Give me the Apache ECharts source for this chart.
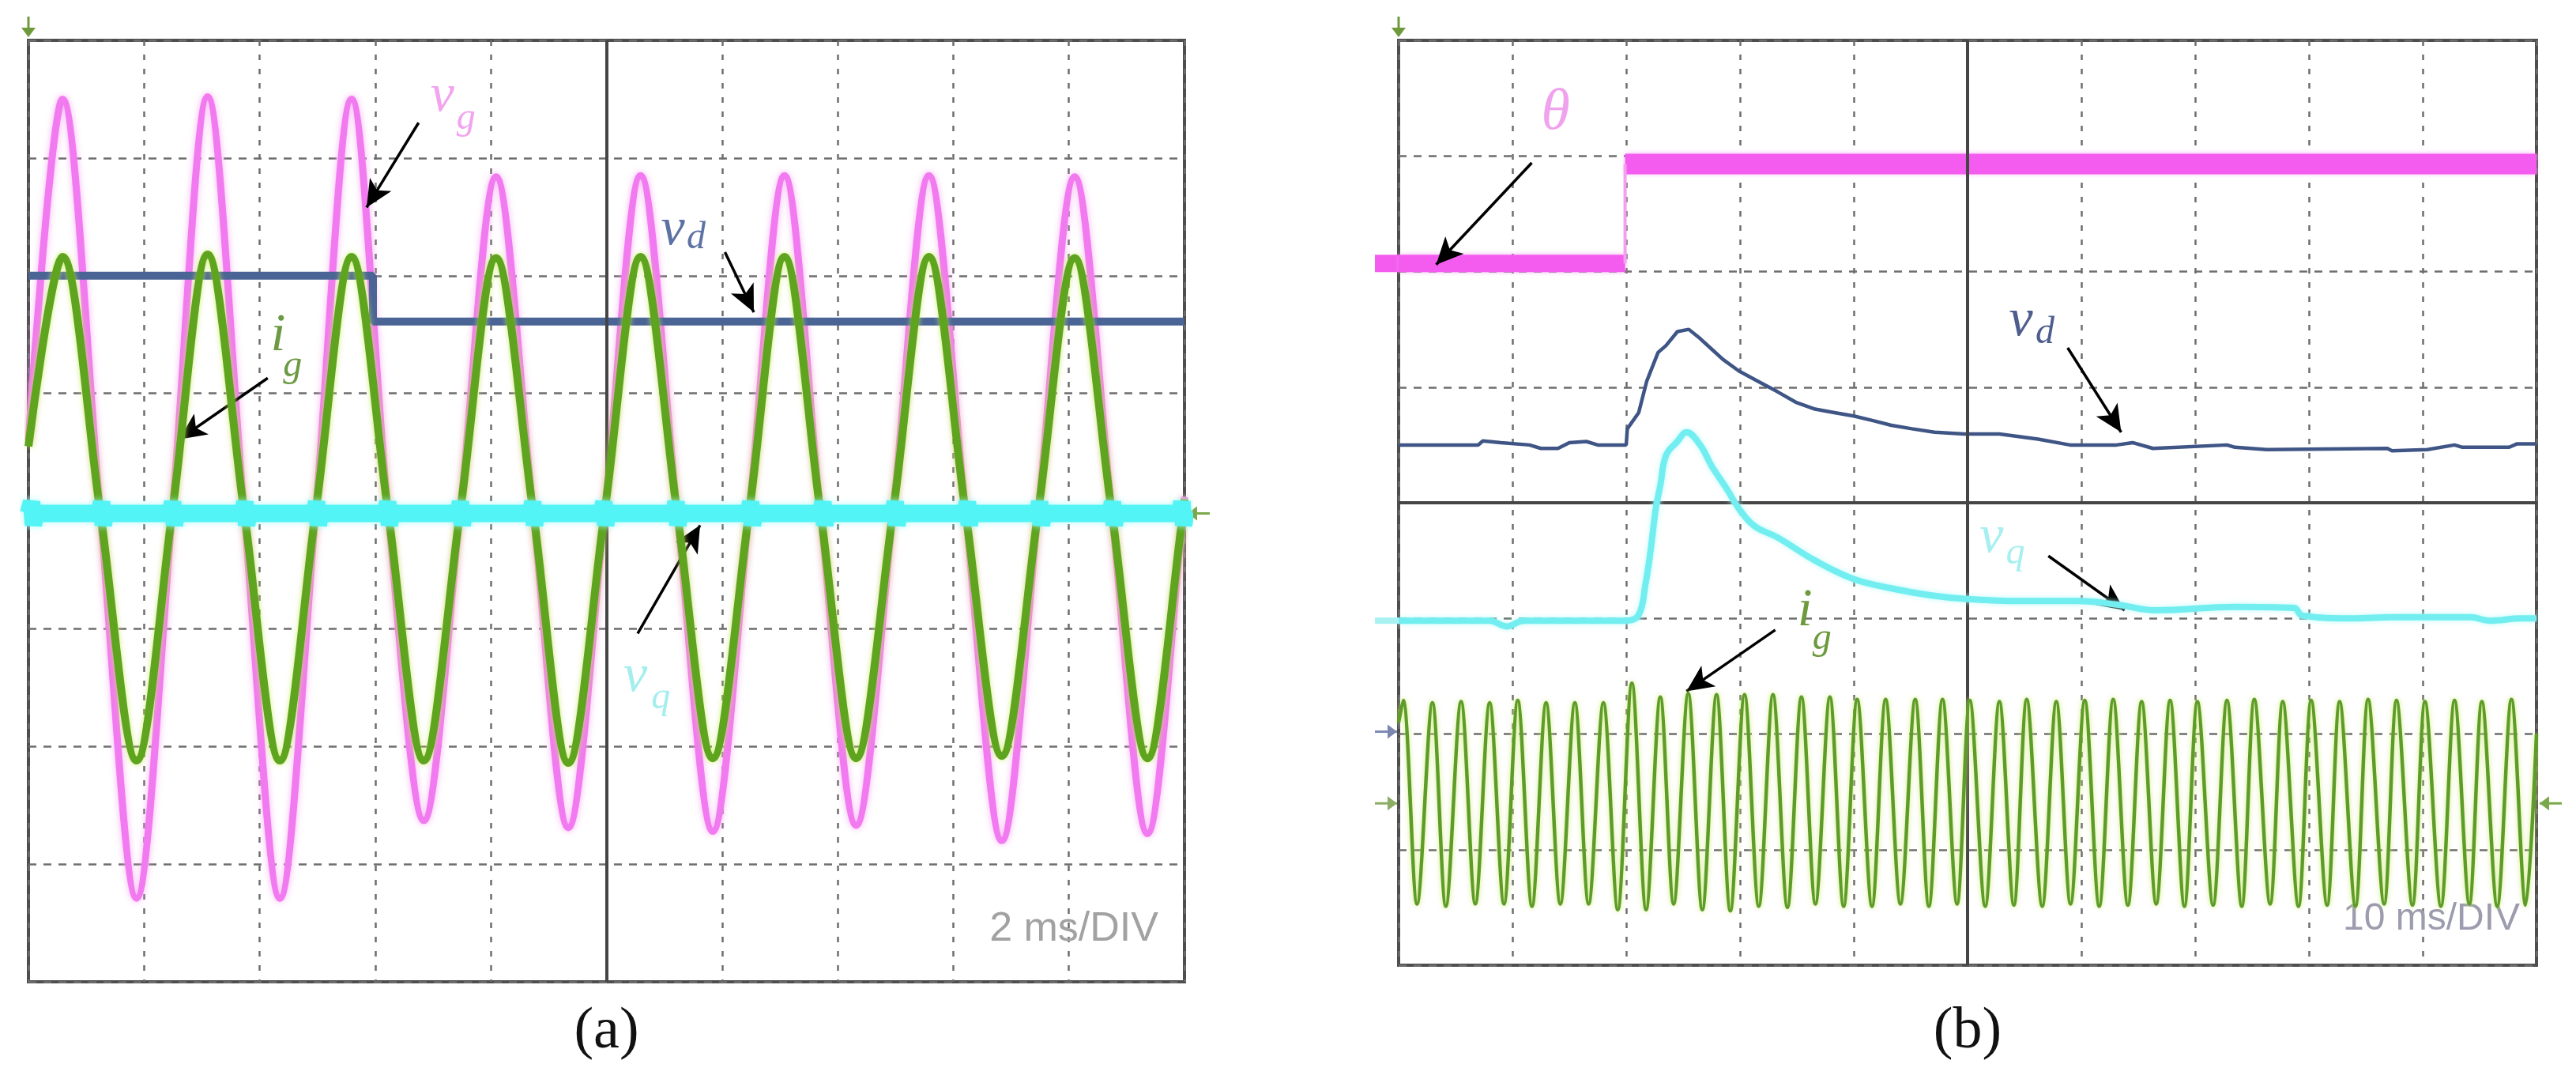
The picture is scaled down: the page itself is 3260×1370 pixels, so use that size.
<!DOCTYPE html>
<html>
<head>
<meta charset="utf-8">
<script src="https://cdn.jsdelivr.net/npm/echarts@6/dist/echarts.min.js"></script>
<style>
html,body{margin:0;padding:0;background:#ffffff;}
#chart{width:3260px;height:1370px;}
</style>
</head>
<body>
<div id="chart"></div>
<script>
// ================= PANEL (a) : 2 ms/DIV, vertical values in divisions =================
const A_T_MIN = 0, A_T_MAX = 20, A_T_STEP = 2;
const A_Y_MIN = -4, A_Y_MAX = 4, A_Y_STEP = 1;
const A_CENTER_T = 10;

// v_g and i_g (in phase) : times of peaks, zero crossings and troughs (ms)
const A_PEAK_T   = [0.59, 3.10, 5.59, 8.09, 10.59, 13.08, 15.58, 18.10];
const A_DOWN_T   = [1.24, 3.73, 6.22, 8.73, 11.22, 13.70, 16.21, 18.74];
const A_TROUGH_T = [1.87, 4.35, 6.84, 9.34, 11.84, 14.32, 16.84, 19.36];
const A_UP_T     = [2.49, 4.97, 7.47, 9.97, 12.47, 14.96, 17.47, 19.98];

const A_VG_START = 0.6, A_VG_END = 0.12;
const A_VG_PEAK   = [3.50, 3.52, 3.50, 2.84, 2.85, 2.85, 2.85, 2.84];
const A_VG_TROUGH = [-3.29, -3.29, -2.63, -2.69, -2.72, -2.67, -2.80, -2.74];

const A_IG_START = 0.55, A_IG_END = 0.1;
const A_IG_PEAK   = [2.16, 2.18, 2.16, 2.15, 2.16, 2.16, 2.16, 2.15];
const A_IG_TROUGH = [-2.12, -2.12, -2.12, -2.14, -2.10, -2.10, -2.08, -2.10];

// v_d : step down at the sag instant
const A_VD_T = [0, 5.96, 5.96, 20];
const A_VD_V = [2.00, 2.00, 1.61, 1.61];

// v_q : flat trace with small blobs at each v_g zero crossing
const A_VQ_BASE = -0.02;
const A_VQ_SPIKE_T = [0.07, 1.28, 2.51, 3.76, 5.00, 6.23, 7.49, 8.74, 9.97, 11.22, 12.51, 13.76, 15.01, 16.26, 17.51, 18.77, 19.97];
const A_VQ_SPIKE_HI = 0.08, A_VQ_SPIKE_LO = -0.12;

// ================= PANEL (b) : 10 ms/DIV =================
const B_T_MIN = 0, B_T_MAX = 100, B_T_STEP = 10;
const B_Y_MIN = -4, B_Y_MAX = 4, B_Y_STEP = 1;
const B_CENTER_T = 50;

// theta : step
const B_THETA_T = [0, 19.9, 100];
const B_THETA_V = [2.07, 2.93];

// v_d
const B_VD_T = [0, 7.0, 7.4, 9.0, 11.5, 12.5, 14.0, 15.0, 16.5, 17.5, 20.0, 20.1, 21.1, 21.8, 22.8, 23.5, 24.5, 25.5, 26.5, 27.5, 28.5, 29.9, 31.6, 33.3, 34.9, 36.6, 38.3, 40.0, 41.7, 43.3, 45.1, 47.1, 49.7, 52.8, 56.2, 59.0, 63.1, 64.5, 66.3, 72.8, 73.5, 76.3, 86.9, 87.3, 90.4, 92.8, 93.5, 97.6, 98.3, 100];
const B_VD_V = [0.50, 0.50, 0.535, 0.52, 0.50, 0.47, 0.47, 0.52, 0.53, 0.50, 0.50, 0.64, 0.78, 1.05, 1.30, 1.36, 1.48, 1.50, 1.42, 1.33, 1.24, 1.14, 1.05, 0.96, 0.87, 0.81, 0.78, 0.75, 0.71, 0.67, 0.64, 0.61, 0.595, 0.595, 0.55, 0.50, 0.50, 0.52, 0.47, 0.50, 0.48, 0.46, 0.47, 0.45, 0.46, 0.50, 0.48, 0.48, 0.51, 0.51];

// v_q
const B_VQ_T = [0, 8.0, 9.5, 11.0, 20.0, 21.1, 21.7, 22.15, 22.6, 23.0, 23.5, 24.5, 25.3, 26.5, 27.5, 28.9, 29.9, 31.25, 33.3, 36.6, 40.0, 43.3, 46.7, 49.7, 54.5, 59.7, 63.1, 66.6, 73.5, 78.7, 79.4, 83.8, 87.3, 94.2, 95.9, 98.7, 100];
const B_VQ_V = [-1.02, -1.02, -1.07, -1.02, -1.02, -0.97, -0.70, -0.41, -0.05, 0.15, 0.41, 0.53, 0.61, 0.50, 0.32, 0.11, -0.05, -0.20, -0.30, -0.50, -0.66, -0.74, -0.80, -0.83, -0.85, -0.85, -0.88, -0.93, -0.90, -0.91, -0.975, -1.00, -0.99, -0.99, -1.02, -1.00, -1.00];

// i_g : 400 Hz current, peaks and troughs
const B_IG_START = -1.9, B_IG_END = -2.0;
const B_IG_PEAK_T = [0.4, 2.97, 5.49, 8.0, 10.47, 12.96, 15.49, 18.0, 20.5, 23.0, 25.45, 27.94, 30.4, 32.9, 35.4, 37.9, 40.3, 42.8, 45.4, 47.8, 50.2, 52.8, 55.2, 57.8, 60.3, 62.8, 65.3, 67.8, 70.2, 72.8, 75.2, 77.7, 80.2, 82.7, 85.2, 87.7, 90.2, 92.8, 95.2, 97.8];
const B_IG_PEAK_V = [-1.71, -1.73, -1.72, -1.73, -1.71, -1.73, -1.73, -1.73, -1.56, -1.68, -1.65, -1.66, -1.66, -1.66, -1.68, -1.68, -1.70, -1.70, -1.70, -1.70, -1.71, -1.72, -1.70, -1.72, -1.71, -1.70, -1.72, -1.71, -1.72, -1.71, -1.70, -1.72, -1.71, -1.72, -1.70, -1.71, -1.72, -1.71, -1.72, -1.70];
const B_IG_TROUGH_T = [1.62, 4.15, 6.74, 9.26, 11.72, 14.21, 16.70, 19.26, 21.75, 24.17, 26.69, 29.15, 31.65, 34.17, 36.63, 39.11, 41.6, 44.1, 46.6, 49.08, 51.55, 54.07, 56.56, 59.05, 61.57, 64.09, 66.58, 69.06, 71.58, 74.1, 76.59, 79.08, 81.6, 84.09, 86.61, 89.1, 91.6, 94.1, 96.55, 99.05];
const B_IG_TROUGH_V = [-3.47, -3.49, -3.47, -3.47, -3.49, -3.47, -3.47, -3.52, -3.52, -3.47, -3.52, -3.53, -3.49, -3.50, -3.47, -3.49, -3.49, -3.47, -3.49, -3.47, -3.49, -3.48, -3.49, -3.47, -3.49, -3.48, -3.47, -3.49, -3.48, -3.49, -3.47, -3.49, -3.48, -3.49, -3.47, -3.48, -3.49, -3.47, -3.49, -3.48];

// ================= annotations (data coordinates) =================
const A_LABELS = [
  {main: 'v', sub: 'g', at: [7.16, 3.52], subAt: [7.57, 3.33], color: '#f2a4ee'},
  {main: 'i', sub: 'g', at: [4.32, 1.49], subAt: [4.57, 1.23], color: '#6c9a44'},
  {main: 'v', sub: 'd', at: [11.15, 2.39], subAt: [11.55, 2.32], color: '#5d71a4'},
  {main: 'v', sub: 'q', at: [10.50, -1.41], subAt: [10.94, -1.59], color: '#a4eeee'}
];
const A_ARROWS = [
  [[6.75, 3.30], [5.85, 2.58]],
  [[4.14, 1.13], [2.61, 0.61]],
  [[12.05, 2.20], [12.55, 1.69]],
  [[10.54, -1.04], [11.62, -0.12]]
];
const B_LABELS = [
  {main: 'θ', sub: '', at: [13.8, 3.37], subAt: null, color: '#f0a2ee'},
  {main: 'v', sub: 'd', at: [54.7, 1.57], subAt: [56.8, 1.47], color: '#4d5e8e'},
  {main: 'v', sub: 'q', at: [52.1, -0.30], subAt: [54.2, -0.44], color: '#a6f0f0'},
  {main: 'i', sub: 'g', at: [35.7, -0.94], subAt: [37.2, -1.18], color: '#6c9a3c'}
];
const B_ARROWS = [
  [[11.7, 2.94], [3.3, 2.06]],
  [[58.8, 1.34], [63.5, 0.61]],
  [[57.1, -0.46], [63.8, -0.93]],
  [[33.1, -1.10], [25.3, -1.63]]
];
const TIME_BASE = ['2 ms/DIV', '10 ms/DIV'];
const PANEL_TITLES = ['(a)', '(b)'];

// ================= build =================
function wave(startV, endT, endV, peakT, peakV, downT, troughT, troughV, upT) {
  const pts = [[0, startV]];
  for (let i = 0; i < peakT.length; i++) {
    pts.push([peakT[i], peakV[i]]);
    pts.push([downT[i], 0]);
    pts.push([troughT[i], troughV[i]]);
    pts.push([upT[i], 0]);
  }
  pts.push([endT, endV]);
  return pts;
}
function zip(t, v) { return t.map((x, i) => [x, v[i]]); }
function altWave(startV, endT, endV, pT, pV, tT, tV) {
  const pts = [[0, startV]];
  for (let i = 0; i < pT.length; i++) {
    pts.push([pT[i], pV[i]]);
    pts.push([tT[i], tV[i]]);
  }
  pts.push([endT, endV]);
  return pts;
}

const aVg = wave(A_VG_START, A_T_MAX, A_VG_END, A_PEAK_T, A_VG_PEAK, A_DOWN_T, A_TROUGH_T, A_VG_TROUGH, A_UP_T);
const aIg = wave(A_IG_START, A_T_MAX, A_IG_END, A_PEAK_T, A_IG_PEAK, A_DOWN_T, A_TROUGH_T, A_IG_TROUGH, A_UP_T);
const aVd = zip(A_VD_T, A_VD_V);
const aVq = [[0, A_VQ_BASE]];
A_VQ_SPIKE_T.forEach(t => {
  aVq.push([t - 0.05, A_VQ_BASE], [t - 0.015, A_VQ_SPIKE_HI], [t + 0.015, A_VQ_SPIKE_LO], [t + 0.05, A_VQ_BASE]);
});
aVq.push([A_T_MAX, A_VQ_BASE]);

const bThetaLo = [[B_THETA_T[0], B_THETA_V[0]], [B_THETA_T[1], B_THETA_V[0]]];
const bThetaHi = [[B_THETA_T[1], B_THETA_V[1]], [B_THETA_T[2], B_THETA_V[1]]];
const bThetaStep = [[B_THETA_T[1], B_THETA_V[0]], [B_THETA_T[1], B_THETA_V[1]]];
const bVd = zip(B_VD_T, B_VD_V);
const bVq = zip(B_VQ_T, B_VQ_V);
const bIg = altWave(B_IG_START, B_T_MAX, B_IG_END, B_IG_PEAK_T, B_IG_PEAK_V, B_IG_TROUGH_T, B_IG_TROUGH_V);

function axisX(gi, min, max, interval) {
  return {type: 'value', gridIndex: gi, min, max, interval,
    axisLine: {show: false}, axisTick: {show: false}, axisLabel: {show: false},
    splitLine: {show: true, lineStyle: {color: '#6e6e6e', width: 2.5, type: [7, 11]}}};
}
function axisY(gi, min, max, interval) {
  return {type: 'value', gridIndex: gi, min, max, interval,
    axisLine: {show: false}, axisTick: {show: false}, axisLabel: {show: false},
    splitLine: {show: true, lineStyle: {color: '#6e6e6e', width: 2.5, type: [10, 9]}}};
}
function trace(gi, data, color, width, z, extra) {
  return Object.assign({
    type: 'line', xAxisIndex: gi, yAxisIndex: gi, data, showSymbol: false, symbol: 'none',
    lineStyle: {color, width}, z, silent: true, animation: false
  }, extra || {});
}
function arrows(gi, list) {
  return {
    type: 'line', xAxisIndex: gi, yAxisIndex: gi, data: [], z: 20, silent: true,
    markLine: {
      silent: true, animation: false, symbol: ['none', 'arrow'], symbolSize: [24, 34],
      label: {show: false}, emphasis: {disabled: true},
      lineStyle: {color: '#000000', width: 3.5, type: 'solid'},
      data: list.map(a => [{coord: a[0]}, {coord: a[1]}])
    }
  };
}
function centerLines(gi, tc) {
  return {
    type: 'line', xAxisIndex: gi, yAxisIndex: gi, data: [], z: 1, silent: true,
    markLine: {
      silent: true, animation: false, symbol: 'none', label: {show: false}, emphasis: {disabled: true},
      lineStyle: {color: '#454545', width: 4, type: 'solid'},
      data: [{xAxis: tc}, {yAxis: 0}]
    }
  };
}

const chart = echarts.init(document.getElementById('chart'), null, {renderer: 'canvas'});
const option = {
  animation: false,
  backgroundColor: '#ffffff',
  grid: [
    {left: 36, top: 51, width: 1463, height: 1191, show: true, borderColor: '#4e4e4e', borderWidth: 4, backgroundColor: 'rgba(0,0,0,0)'},
    {left: 1770, top: 51, width: 1440, height: 1170, show: true, borderColor: '#4e4e4e', borderWidth: 4, backgroundColor: 'rgba(0,0,0,0)'}
  ],
  xAxis: [axisX(0, A_T_MIN, A_T_MAX, A_T_STEP), axisX(1, B_T_MIN, B_T_MAX, B_T_STEP)],
  yAxis: [axisY(0, A_Y_MIN, A_Y_MAX, A_Y_STEP), axisY(1, B_Y_MIN, B_Y_MAX, B_Y_STEP)],
  series: [
    centerLines(0, A_CENTER_T),
    centerLines(1, B_CENTER_T),
    // panel (a)
    trace(0, aVg, '#f27af0', 9, 3, {smooth: 0.33, lineStyle: {color: '#f27af0', width: 9, shadowColor: 'rgba(246,160,240,0.8)', shadowBlur: 8}}),
    trace(0, aVd, '#4a6496', 10, 4, {lineStyle: {color: '#4a6496', width: 10}}),
    trace(0, aIg, '#5ea41e', 10, 5, {smooth: 0.33, lineStyle: {color: '#5ea41e', width: 10, shadowColor: 'rgba(200,235,90,0.8)', shadowBlur: 7}}),
    trace(0, aVq, '#52f4f6', 22, 6, {lineStyle: {color: '#52f4f6', width: 22, shadowColor: 'rgba(170,250,250,0.9)', shadowBlur: 8}}),
    // panel (b)
    trace(1, bThetaLo, '#f35cef', 22, 3, {lineStyle: {color: '#f35cef', width: 22, shadowColor: 'rgba(245,150,240,0.7)', shadowBlur: 6}}),
    trace(1, bThetaHi, '#f35cef', 26, 3, {lineStyle: {color: '#f35cef', width: 26, shadowColor: 'rgba(245,150,240,0.7)', shadowBlur: 6}}),
    trace(1, bThetaStep, '#f3a0ef', 4, 3),
    trace(1, bVd, '#3f5585', 4.5, 4),
    trace(1, bVq, '#72eef0', 8, 5, {smooth: 0.4, lineStyle: {color: '#72eef0', width: 8, shadowColor: 'rgba(180,250,250,0.9)', shadowBlur: 6}}),
    trace(1, bIg, '#5e9c2a', 4, 6, {smooth: 0.33, lineStyle: {color: '#5e9c2a', width: 4.5, shadowColor: 'rgba(205,235,110,0.9)', shadowBlur: 6}}),
    arrows(0, A_ARROWS),
    arrows(1, B_ARROWS)
  ]
};
chart.setOption(option);

// ---------- labels, titles, channel markers ----------
function px(gi, p) { return chart.convertToPixel({gridIndex: gi}, p); }
const graphics = [];
function addLabels(gi, list, mainSize, subSize) {
  list.forEach(l => {
    const p = px(gi, l.at);
    graphics.push({type: 'text', x: p[0], y: p[1], z: 30, silent: true,
      style: {text: l.main, fill: l.color, fontFamily: '"Liberation Serif", serif', fontStyle: 'italic',
        fontSize: l.main === 'θ' ? 74 : mainSize, align: 'center', verticalAlign: 'middle'}});
    if (l.sub) {
      const s = px(gi, l.subAt);
      graphics.push({type: 'text', x: s[0], y: s[1], z: 30, silent: true,
        style: {text: l.sub, fill: l.color, fontFamily: '"Liberation Serif", serif', fontStyle: 'italic',
          fontSize: subSize, align: 'center', verticalAlign: 'middle'}});
    }
  });
}
addLabels(0, A_LABELS, 68, 48);
addLabels(1, B_LABELS, 68, 48);

// panel titles
[[0, A_CENTER_T], [1, B_CENTER_T]].forEach(([gi, tc], k) => {
  const p = px(gi, [tc, gi === 0 ? A_Y_MIN : B_Y_MIN]);
  graphics.push({type: 'text', x: p[0], y: 1306, silent: true,
    style: {text: PANEL_TITLES[k], fill: '#111', fontFamily: '"Liberation Serif", serif', fontSize: 74,
      align: 'center', verticalAlign: 'middle'}});
});
// time base text
(function () {
  const pa = px(0, [A_T_MAX, A_Y_MIN]);
  graphics.push({type: 'text', x: pa[0] - 33, y: pa[1] - 66, silent: true,
    style: {text: TIME_BASE[0], fill: '#a2a2a2', fontFamily: '"Liberation Sans", sans-serif', fontSize: 52,
      align: 'right', verticalAlign: 'middle'}});
  const pb = px(1, [B_T_MAX, B_Y_MIN]);
  graphics.push({type: 'text', x: pb[0] - 21, y: pb[1] - 58, silent: true,
    style: {text: TIME_BASE[1], fill: '#9c9cae', fontFamily: '"Liberation Sans", sans-serif', fontSize: 48,
      align: 'right', verticalAlign: 'middle'}});
})();

// channel markers
function downMarker(x, y, color) {
  graphics.push({type: 'line', silent: true, shape: {x1: x, y1: y - 16, x2: x, y2: y + 8}, style: {stroke: color, lineWidth: 3}});
  graphics.push({type: 'polygon', silent: true, shape: {points: [[x - 9, y - 2], [x + 9, y - 2], [x, y + 10]]}, style: {fill: color}});
}
function sideMarker(x, y, color, dir) {
  graphics.push({type: 'line', silent: true, shape: {x1: x, y1: y, x2: x - dir * 28, y2: y}, style: {stroke: color, lineWidth: 3}});
  graphics.push({type: 'polygon', silent: true, shape: {points: [[x, y], [x - dir * 12, y - 9], [x - dir * 12, y + 9]]}, style: {fill: color}});
}
(function () {
  const a0 = px(0, [A_T_MIN, A_Y_MAX]);
  downMarker(a0[0], a0[1] - 14, '#6e9a3c');
  const a1 = px(0, [A_T_MAX, A_VQ_BASE]);
  sideMarker(a1[0] + 4, a1[1], '#7aa84a', -1);
  const b0 = px(1, [B_T_MIN, B_Y_MAX]);
  downMarker(b0[0], b0[1] - 14, '#6e9a3c');
  const th = px(1, [B_T_MIN, B_THETA_V[0]]);
  graphics.push({type: 'rect', silent: true, shape: {x: th[0] - 30, y: th[1] - 11, width: 30, height: 22}, style: {fill: '#f35cef'}});
  const vq = px(1, [B_T_MIN, B_VQ_V[0]]);
  graphics.push({type: 'rect', silent: true, shape: {x: vq[0] - 30, y: vq[1] - 4, width: 30, height: 8}, style: {fill: '#a8f2f2'}});
  const vdM = px(1, [B_T_MIN, -1.98]);
  sideMarker(vdM[0] - 2, vdM[1], '#7d88b0', 1);
  const igM = px(1, [B_T_MIN, -2.6]);
  sideMarker(igM[0] - 2, igM[1], '#8cae64', 1);
  const igR = px(1, [B_T_MAX, -2.6]);
  sideMarker(igR[0] + 4, igR[1], '#7aa84a', -1);
})();

chart.setOption({graphic: graphics});
</script>
</body>
</html>
